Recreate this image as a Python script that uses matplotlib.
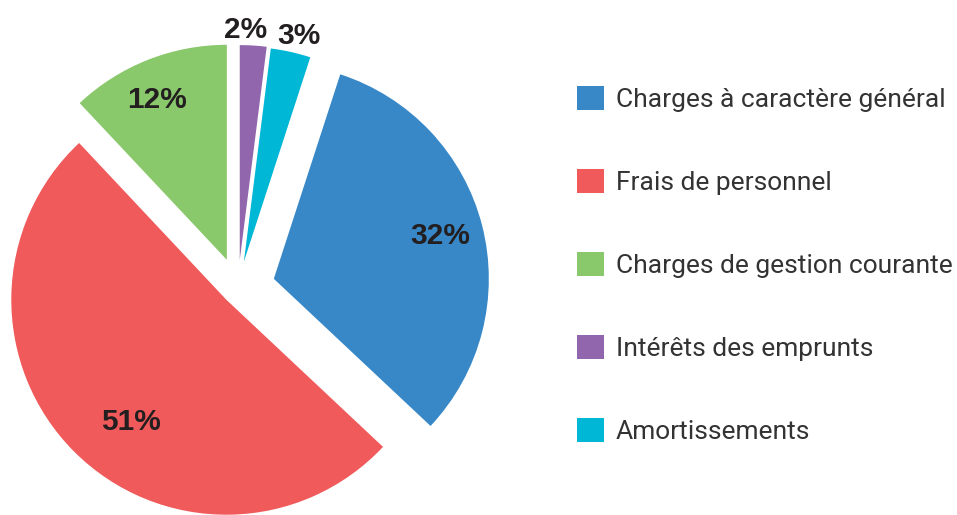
import numpy as np
import matplotlib
matplotlib.use("Agg")
import matplotlib.pyplot as plt
from matplotlib.patches import Patch

labels = ["Charges à caractère général", "Frais de personnel",
          "Charges de gestion courante", "Intérêts des emprunts",
          "Amortissements"]
shares = [32, 51, 12, 2, 3]
pct_text = ["32%", "51%", "12%", "2%", "3%"]
colors = ["#3888C8", "#F15A5A", "#89C86B", "#9166AC", "#01B7D6"]
explode = [0.172, 0.077, 0.141, 0.13, 0.125]
# label placement: distance (in radii) and angular nudge (deg) from the wedge middle
label_dist = [0.80, 0.72, 0.81, 1.07, 1.08]
label_nudge = [0, 7, 2, 2.2, -1.0]

W, H = 957, 515
fig = plt.figure(figsize=(W / 100, H / 100), dpi=100)
ax = fig.add_axes([0, 0, 1, 1])

R = 215
# pie() offsets exploded wedges in data units, so scale by the radius
wedges, _ = ax.pie(shares, colors=colors, explode=[e * R for e in explode],
                   startangle=72, counterclock=False, center=(238, H - 288),
                   radius=R, wedgeprops=dict(linewidth=0), frame=True)

for w, t, d, nd in zip(wedges, pct_text, label_dist, label_nudge):
    mid = np.deg2rad((w.theta1 + w.theta2) / 2 + nd)
    cx, cy = w.center
    ax.text(cx + d * R * np.cos(mid), cy + d * R * np.sin(mid), t,
            ha="center", va="center", fontsize=21.5, fontweight="bold",
            family="Liberation Sans", color="#231F20")

handles = [Patch(facecolor=c, edgecolor="none") for c in colors]
leg = ax.legend(handles, labels, loc="upper left",
                bbox_to_anchor=(577 / W, 1 - 86 / H), frameon=False,
                prop=dict(family="Roboto", size=19),
                handlelength=1.02, handleheight=1.02, handletextpad=0.46,
                labelspacing=2.16, borderaxespad=0, borderpad=0)
for txt in leg.get_texts():
    txt.set_color("#333333")

ax.set_xlim(0, W)
ax.set_ylim(0, H)
ax.set_aspect("equal")
ax.axis("off")
fig.savefig("out.png", dpi=100)
